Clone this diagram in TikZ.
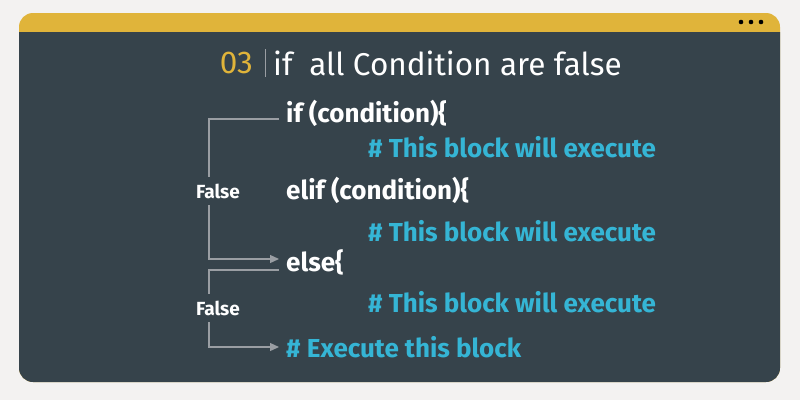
\documentclass[tikz,border=0pt]{standalone}
\usepackage{fontspec}
\setmainfont{Fira Sans}
\definecolor{cardbg}{RGB}{243,242,241}
\definecolor{cardyellow}{RGB}{224,180,58}
\definecolor{carddark}{RGB}{54,67,75}
\definecolor{codecyan}{RGB}{53,181,213}
\definecolor{flowgray}{RGB}{154,158,163}
\usetikzlibrary{arrows.meta,positioning,calc}

\begin{document}
\begin{tikzpicture}[x=1pt, y=-1pt,
  codeline/.style={anchor=west, inner sep=0pt, text=white, font=\fontsize{26}{30}\selectfont\bfseries},
  comment/.style={codeline, text=codecyan},
  falselbl/.style={inner sep=0pt, minimum height=28pt, text=white, font=\fontsize{19}{22}\selectfont\bfseries},
  flow/.style={flowgray, line width=1.3pt},
  flowarrow/.style={flow, -{Triangle[length=9pt, width=8pt]}}]

\useasboundingbox (0,0) rectangle (800,400);
\fill[cardbg] (0,0) rectangle (800,400);

% card
\fill[cardyellow, rounded corners=14pt] (19,13) rectangle (780,382);
\fill[carddark] (19,32) -- (780,32) [rounded corners=14pt] -- (780,382) -- (19,382) [sharp corners] -- cycle;
\foreach \dx in {741,751,761}
  \fill[black] (\dx,22) circle (2.3pt);

% title
\node[anchor=east, inner sep=0pt, text=cardyellow, font=\fontsize{31.5}{34}\selectfont] (num) at (253,63) {03};
\draw[flowgray, line width=0.6pt] (265,49) -- (265,77);
\node[anchor=west, inner sep=0pt, text=white, font=\fontsize{31.5}{34}\selectfont] (title) at (273,63) {if\ \ all Condition are false};

% code
\node[codeline] (ifc) at (286,113) {if (condition)\{};
\node[comment] (cm1) at (368,147) {\# This block will execute};
\node[codeline] (elifc) at (286,190) {elif (condition)\{};
\node[comment] (cm2) at (368,231) {\# This block will execute};
\node[codeline] (elsec) at (286,262) {else\{};
\node[comment] (cm3) at (368,302) {\# This block will execute};
\node[comment] (exec) at (286,347) {\# Execute this block};

\node[falselbl] (f1) at (218,191) {False};
\node[falselbl] (f2) at (218,308) {False};

% flow
\draw[flow] ([xshift=-7pt,yshift=-6pt]ifc.west) -| ([xshift=-9pt]f1.north);
\draw[flowarrow] ([xshift=-9pt]f1.south) |- ([xshift=-7pt,yshift=3pt]elsec.west);
\draw[flow] ([xshift=-7pt,yshift=-8pt]elsec.west) -| ([xshift=-9pt]f2.north);
\draw[flowarrow] ([xshift=-9pt]f2.south) |- ([xshift=-7pt]exec.west);

\end{tikzpicture}
\end{document}
